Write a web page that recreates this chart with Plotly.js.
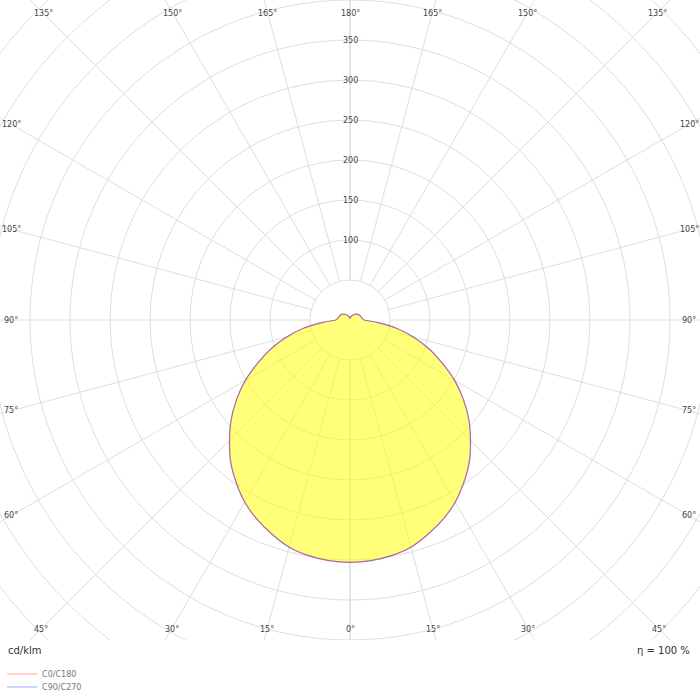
<!DOCTYPE html>
<html>
<head>
<meta charset="utf-8">
<script src="https://cdn.plot.ly/plotly-3.0.1.min.js"></script>
<style>
  html, body { margin: 0; padding: 0; background: #fff; }
  #ldc { width: 700px; height: 700px; }
</style>
</head>
<body>
<div id="ldc"></div>
<script>
// gamma angles (deg from nadir) and luminous intensity in cd/klm
var gammaDeg = [0, 5, 10, 15, 20, 25, 30, 35, 40, 45, 50, 55, 60, 65, 70, 75, 80, 85, 90,
                95, 100, 105, 110, 115, 120, 125, 130, 135, 140, 145, 150, 155, 160, 165, 170, 175, 180];
var c0c180 = [303, 302, 299, 294, 285, 275, 263, 248, 232, 213, 194, 173, 151, 127, 105, 82, 59, 34, 18,
              16, 15, 14.5, 14, 13.5, 13, 12.5, 11.5, 10.5, 9, 8, 7, 6, 5, 4, 3, 2.5, 2];
var c90c270 = [303, 302, 299, 294, 285, 275, 263, 248, 232, 213, 194, 173, 151, 127, 105, 82, 59, 34, 18,
               16, 15, 14.5, 14, 13.5, 13, 12.5, 11.5, 10.5, 9, 8, 7, 6, 5, 4, 3, 2.5, 2];

// grid
var ringValues = [50, 100, 150, 200, 250, 300, 350, 400, 450, 500, 550, 600];
var ringLabels = [100, 150, 200, 250, 300, 350];
var spokeAngles = [0, 15, 30, 45, 60, 75, 90, 105, 120, 135, 150, 165, 180];

var curveNames = ['C0/C180', 'C90/C270'];
var etaText = 'η = 100 %';
var unitText = 'cd/klm';

var rad = Math.PI / 180;
var gridColor = '#dedede';

// closed curve: right half from one C-plane, left half from the opposite one
function curveXY(vals) {
	var x = [], y = [];
	for (var i = 0; i < gammaDeg.length; i++) {
		x.push(vals[i] * Math.sin(gammaDeg[i] * rad));
		y.push(-vals[i] * Math.cos(gammaDeg[i] * rad));
	}
	for (var j = gammaDeg.length - 1; j >= 0; j--) {
		x.push(-vals[j] * Math.sin(gammaDeg[j] * rad));
		y.push(-vals[j] * Math.cos(gammaDeg[j] * rad));
	}
	return {x: x, y: y};
}

var a = curveXY(c0c180), b = curveXY(c90c270);

var traces = [
	{
		type: 'scatter', mode: 'lines', x: a.x, y: a.y,
		fill: 'toself', fillcolor: 'rgba(255,255,0,0.52)',
		line: {width: 0, color: 'rgba(0,0,0,0)', shape: 'spline', smoothing: 0.6},
		showlegend: false, hoverinfo: 'skip'
	},
	{
		type: 'scatter', mode: 'lines', x: a.x, y: a.y, name: curveNames[0],
		line: {color: 'rgba(255,0,0,0.35)', width: 1.2, shape: 'spline', smoothing: 0.6},
		legend: 'legend'
	},
	{
		type: 'scatter', mode: 'lines', x: b.x, y: b.y, name: curveNames[1],
		line: {color: 'rgba(0,0,255,0.35)', width: 1.2, shape: 'spline', smoothing: 0.6},
		legend: 'legend2'
	}
];

var shapes = [];
ringValues.forEach(function(r) {
	shapes.push({
		type: 'circle', xref: 'x', yref: 'y', layer: 'below',
		x0: -r, x1: r, y0: -r, y1: r,
		line: {color: gridColor, width: 1}
	});
});

var xLim = 437.5, yLim = 400;
var annotations = [];

[-1, 1].forEach(function(side) {
	spokeAngles.forEach(function(g) {
		var dx = side * Math.sin(g * rad), dy = -Math.cos(g * rad);
		shapes.push({
			type: 'line', xref: 'x', yref: 'y', layer: 'below',
			x0: 50 * dx, y0: 50 * dy, x1: 800 * dx, y1: 800 * dy,
			line: {color: gridColor, width: 1}
		});
		if (side > 0 && (g === 0 || g === 180)) return;
		// label sits on the spoke just inside the frame
		var lx = 423.75, lyTop = 383.75, lyBot = 386.25;
		var tx = Math.abs(dx) > 1e-9 ? lx / Math.abs(dx) : 1e9;
		var ty = Math.abs(dy) > 1e-9 ? (dy > 0 ? lyTop : lyBot) / Math.abs(dy) : 1e9;
		var t = Math.min(tx, ty);
		annotations.push({
			x: t * dx, y: t * dy, xref: 'x', yref: 'y',
			text: g + '°', showarrow: false,
			font: {family: 'DejaVu Sans', size: 8, color: '#444'}
		});
	});
});

ringLabels.forEach(function(r) {
	annotations.push({
		x: 0, y: r, xref: 'x', yref: 'y',
		text: String(r), showarrow: false,
		font: {family: 'DejaVu Sans', size: 8, color: '#444'}
	});
});

annotations.push({
	x: 0, y: -0.017, xref: 'paper', yref: 'paper', xanchor: 'left', yanchor: 'middle',
	xshift: 6, text: unitText, showarrow: false,
	font: {family: 'DejaVu Sans', size: 10, color: '#333'}
});
annotations.push({
	x: 1, y: -0.017, xref: 'paper', yref: 'paper', xanchor: 'right', yanchor: 'middle',
	xshift: -8, text: etaText, showarrow: false,
	font: {family: 'DejaVu Sans', size: 10, color: '#333'}
});

var legendBase = {
	x: 0.003, xanchor: 'left', yanchor: 'middle',
	font: {family: 'DejaVu Sans', size: 8, color: '#777'},
	bgcolor: 'rgba(0,0,0,0)', borderwidth: 0
};

var layout = {
	width: 700,
	height: 700,
	margin: {l: 0, r: 0, t: 0, b: 60, autoexpand: false},
	paper_bgcolor: '#fff',
	plot_bgcolor: '#fff',
	xaxis: {range: [-xLim, xLim], visible: false, fixedrange: true},
	yaxis: {range: [-yLim, yLim], visible: false, fixedrange: true},
	showlegend: true,
	legend: Object.assign({}, legendBase, {y: -34 / 640}),
	legend2: Object.assign({}, legendBase, {y: -47 / 640}),
	shapes: shapes,
	annotations: annotations
};

Plotly.newPlot('ldc', traces, layout, {displayModeBar: false, staticPlot: true});
</script>
</body>
</html>
